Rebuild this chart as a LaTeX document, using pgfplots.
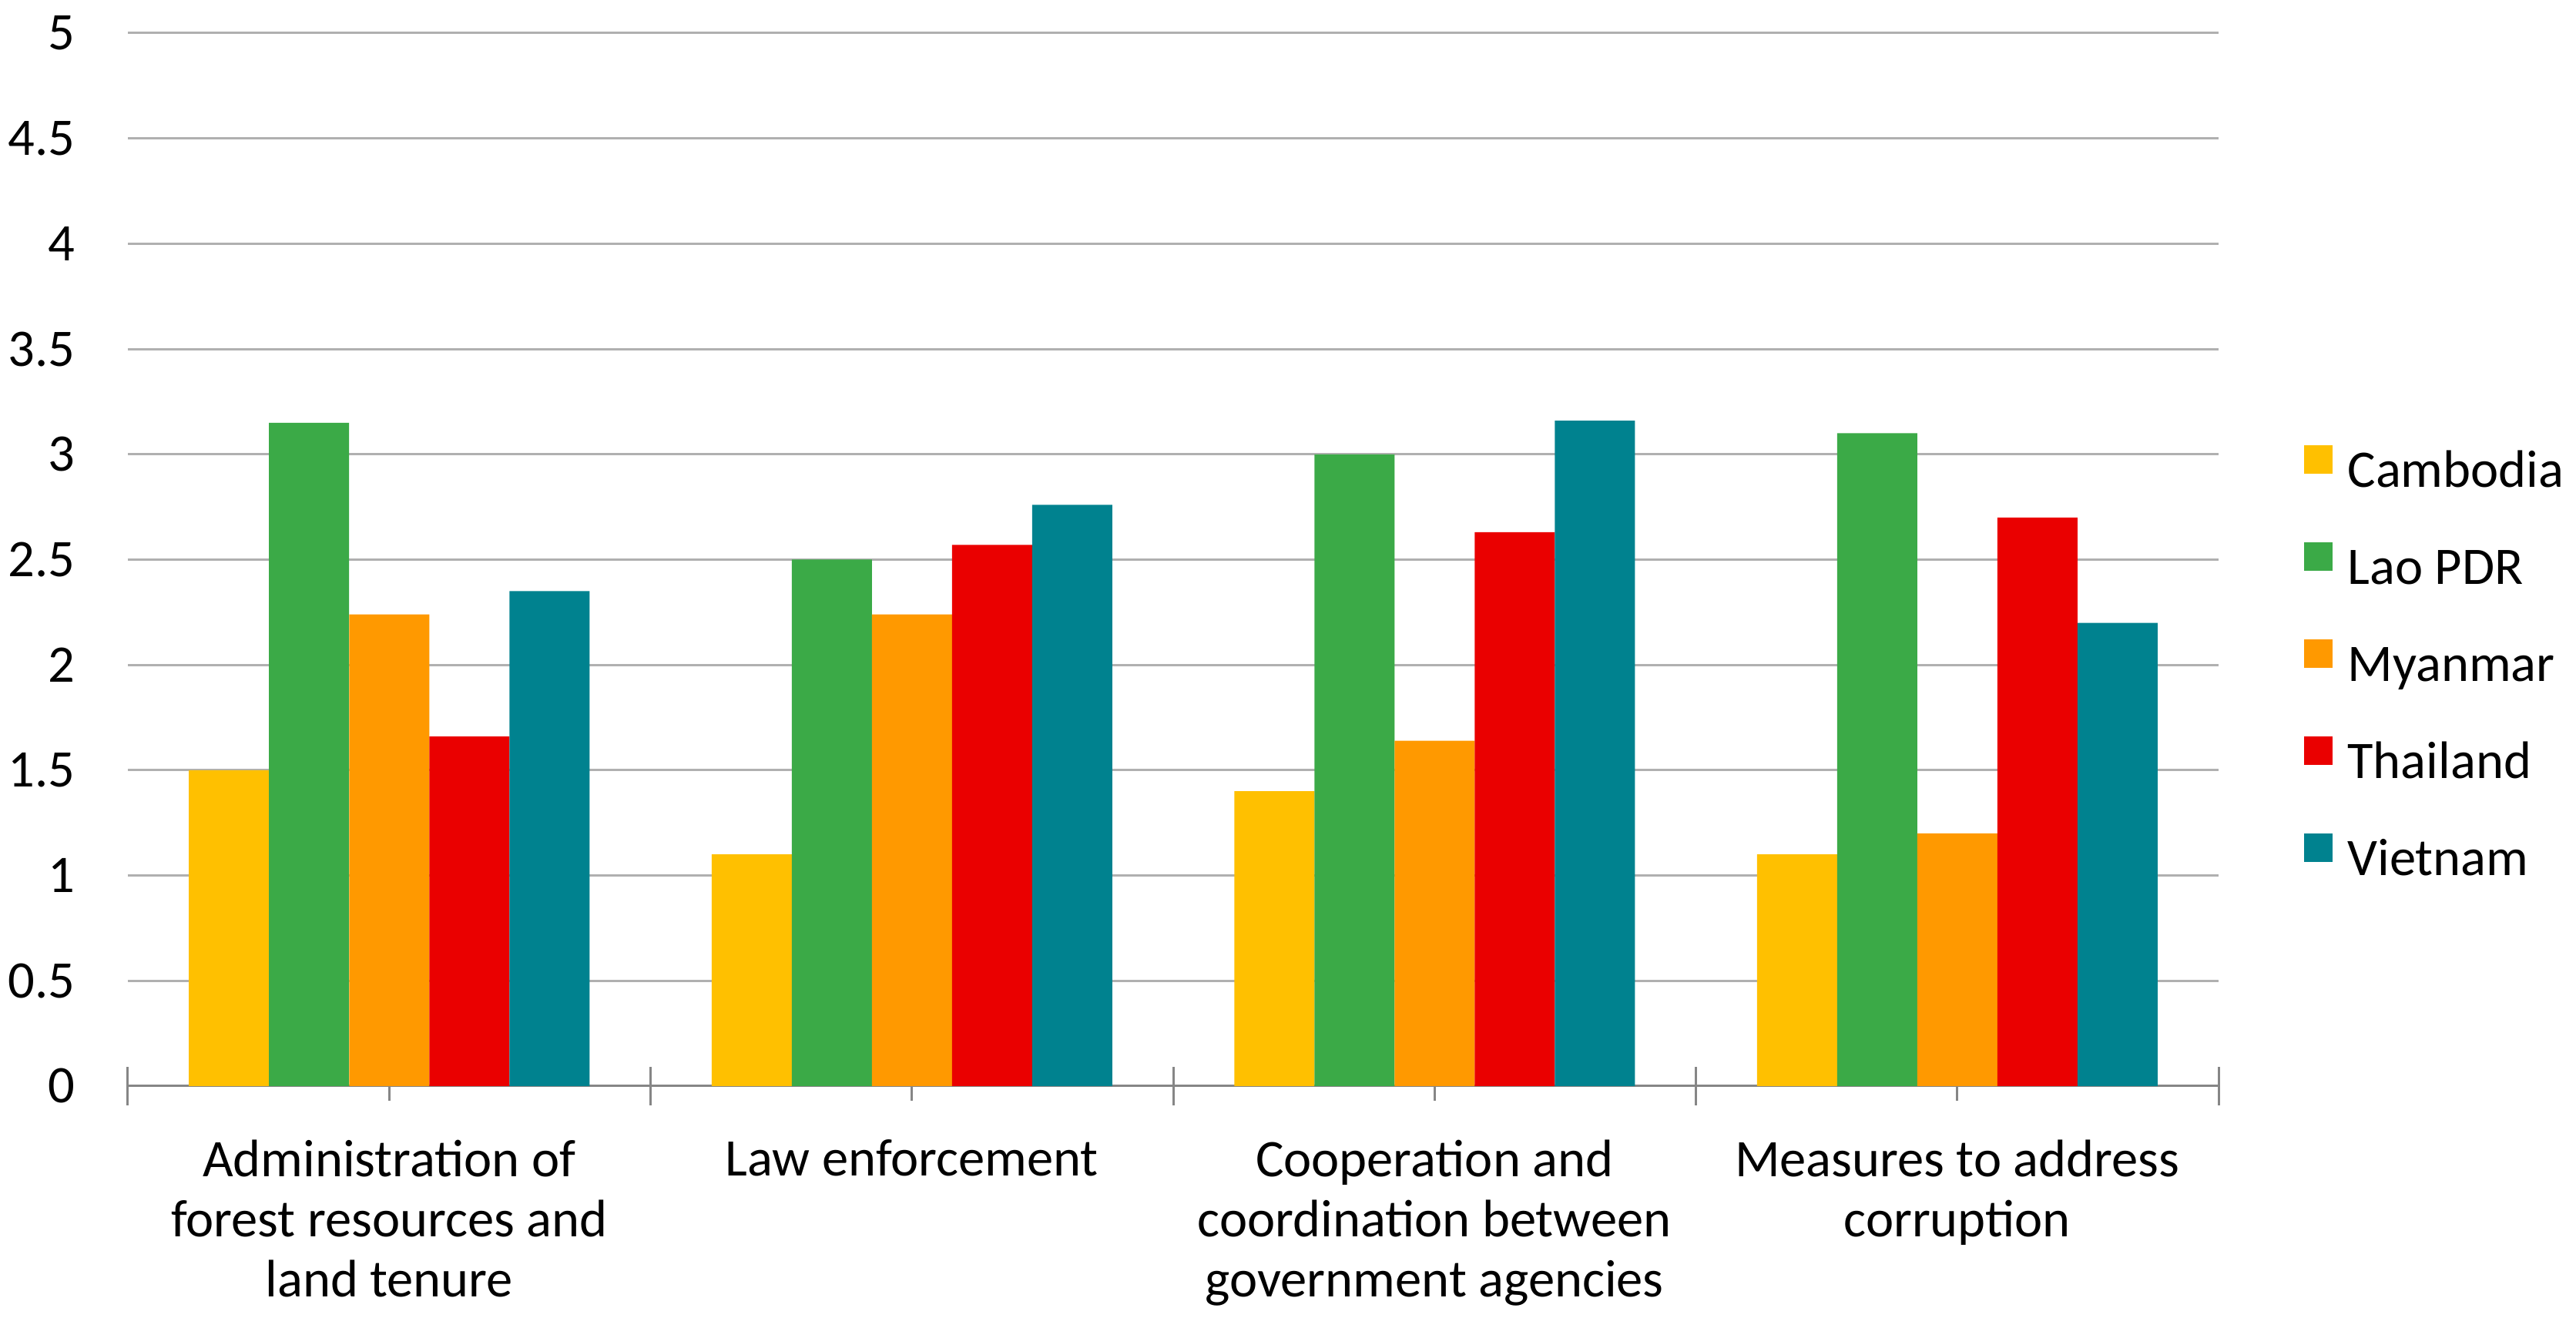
\documentclass[border=0pt]{standalone}
\usepackage{fontspec}
\setmainfont{Carlito}
\usepackage{pgfplots}
\pgfplotsset{compat=1.18}
\definecolor{cCam}{RGB}{255,192,0}
\definecolor{cLao}{RGB}{59,170,71}
\definecolor{cMya}{RGB}{255,153,0}
\definecolor{cTha}{RGB}{234,0,0}
\definecolor{cVie}{RGB}{0,130,143}
\definecolor{gridgray}{RGB}{176,176,176}
\definecolor{axisgray}{RGB}{134,134,134}
\newcommand{\lblfont}{\fontsize{19.5}{22.2}\selectfont}
\begin{document}
\begin{tikzpicture}
\begin{axis}[
  at={(0,0)}, anchor=south west,
  scale only axis, width=27.14cm, height=13.67cm,
  xmin=-0.5, xmax=3.5, ymin=0, ymax=5,
  ybar=0pt, bar width=1.04cm,
  axis lines*=left,
  y axis line style={draw=none},
  x axis line style={color=axisgray, line width=0.03cm},
  ytick={0,0.5,...,5},
  ymajorgrids, grid style={color=gridgray, line width=0.03cm},
  y tick style={draw=none},
  ytick align=inside, xtick align=center,
  major tick length=0.38cm,
  x tick style={color=axisgray, line width=0.03cm},
  xtick={0,1,2,3},
  xticklabels={{Administration of\\forest resources and\\land tenure},
               {Law enforcement},
               {Cooperation and\\coordination between\\government agencies},
               {Measures to address\\corruption}},
  extra x ticks={-0.5,0.5,1.5,2.5,3.5},
  extra x tick labels={},
  extra x tick style={major tick length=0.5cm},
  /pgf/number format/assume math mode=true,
  yticklabel style={font=\lblfont, anchor=east, inner sep=0pt, xshift=-0.68cm},
  xticklabel style={font=\lblfont, anchor=north, align=center, inner sep=0pt, yshift=-0.5cm},
  legend style={draw=none, fill=none, at={(1.0405,0.401)}, anchor=west,
    inner sep=0pt, font=\lblfont, row sep=0.615cm,
    nodes={inner sep=0pt, text height=0.45cm, text depth=0.1cm},
    cells={anchor=west}, /tikz/every odd column/.append style={column sep=0.2cm}},
  legend cell align=left,
  every axis plot post/.append style={legend image code/.code={\fill[##1,draw=none] (0cm,0cm) rectangle (0.37cm,0.37cm);}},
]
\addplot[fill=cCam, draw=none] coordinates {(0,1.5) (1,1.1) (2,1.4) (3,1.1)};
\addplot[fill=cLao, draw=none] coordinates {(0,3.15) (1,2.5) (2,3.0) (3,3.1)};
\addplot[fill=cMya, draw=none] coordinates {(0,2.24) (1,2.24) (2,1.64) (3,1.2)};
\addplot[fill=cTha, draw=none] coordinates {(0,1.66) (1,2.57) (2,2.63) (3,2.7)};
\addplot[fill=cVie, draw=none] coordinates {(0,2.35) (1,2.76) (2,3.16) (3,2.2)};
\legend{Cambodia,Lao PDR,Myanmar,Thailand,Vietnam}
\end{axis}
\pgfresetboundingbox
\path[use as bounding box] (-1.66cm,-3.14cm) rectangle (31.78cm,14.10cm);
\end{tikzpicture}
\end{document}
